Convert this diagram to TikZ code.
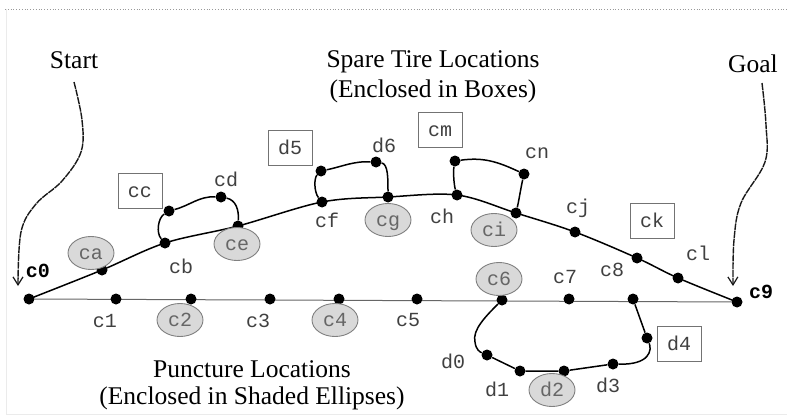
\documentclass[tikz,border=0pt]{standalone}
\usepackage{fontspec}
\setmainfont{Liberation Serif}
\setmonofont{Liberation Mono}
\usetikzlibrary{shapes.geometric,arrows.meta,backgrounds}
\begin{document}
\begin{tikzpicture}[x=1pt,y=-1pt,
  dot/.style={circle,fill=black,inner sep=0pt,minimum size=11pt},
  lbl/.style={font=\ttfamily\fontsize{20}{20}\selectfont,text=black!75,
    inner sep=0pt,text height=12pt,text depth=0pt},
  endlbl/.style={font=\ttfamily\bfseries\fontsize{20}{20}\selectfont,text=black,
    inner sep=0pt,text height=12pt,text depth=0pt},
  spare/.style={lbl,draw=black!55,fill=white,line width=0.9pt,
    minimum width=44pt,minimum height=35pt},
  punct/.style={lbl,ellipse,draw=black!50,fill=black!15,line width=0.9pt,
    minimum width=46pt,minimum height=33pt,text=black!60},
  title/.style={font=\fontsize{25.5}{30}\selectfont,inner sep=0pt,anchor=base},
  road/.style={line width=1.5pt,black},
  base/.style={line width=1pt,draw=black!60},
  pointer/.style={line width=1.4pt,black!90,dash pattern=on 7pt off 0.8pt,
    -{Straight Barb[length=8pt,width=10pt,line width=1.2pt]}}
]
\useasboundingbox (0,0) rectangle (787,420);
\draw[black!40,line width=0.8pt,dotted] (5,9) -- (787,9);
\draw[black!8,line width=0.8pt] (6,9) -- (6,414) -- (787,414);

% headings
\node[title] (start) at (74,68) {Start};
\node[title] (goal) at (753,73) {Goal};
\node[title] (spare1) at (433,67) {Spare Tire Locations};
\node[title] (spare2) at (433,97) {(Enclosed in Boxes)};
\node[title] (punc1) at (252,377) {Puncture Locations};
\node[title] (punc2) at (252,404) {(Enclosed in Shaded Ellipses)};

% locations on the straight road
\node[dot] (c0) at (29,299) {};
\node[dot] (c1) at (116,299) {};
\node[dot] (c2) at (191,299) {};
\node[dot] (c3) at (270,299) {};
\node[dot] (c4) at (339,299) {};
\node[dot] (c5) at (417,299) {};
\node[dot] (c6) at (502,300) {};
\node[dot] (c7) at (569,299) {};
\node[dot] (c8) at (633,299) {};
\node[dot] (c9) at (737,302) {};

% locations on the curved road
\node[dot] (ca) at (102,270) {};
\node[dot] (cb) at (165,243) {};
\node[dot] (ce) at (238,226) {};
\node[dot] (cf) at (322,202) {};
\node[dot] (cg) at (388,197) {};
\node[dot] (ch) at (457,195) {};
\node[dot] (ci) at (516,213) {};
\node[dot] (cj) at (575,232) {};
\node[dot] (ck) at (637,258) {};
\node[dot] (cl) at (678,278) {};

% detour locations
\node[dot] (cc) at (169,211) {};
\node[dot] (cd) at (221,197) {};
\node[dot] (d5) at (321,171) {};
\node[dot] (d6) at (376,162) {};
\node[dot] (cm) at (455,161) {};
\node[dot] (cn) at (524,174) {};
\node[dot] (d0) at (487,355) {};
\node[dot] (d1) at (520,371) {};
\node[dot] (d2) at (564,371) {};
\node[dot] (d3) at (613,364) {};
\node[dot] (d4) at (647,338) {};

\begin{scope}[on background layer]
  \draw[base] (c0) -- (c9);
  \draw[road] plot[smooth,tension=0.55] coordinates
    {(c0) (ca) (cb) (ce) (cf) (cg) (ch) (ci) (cj) (ck) (cl) (c9)};
  % detour loops
  \draw[road] (cb) .. controls (156,233) and (158,218) .. (cc)
    to[out=15,in=178] (cd) .. controls (236,200) and (239,210) .. (ce);
  \draw[road] (cf) .. controls (314,192) and (314,178) .. (d5)
    to[out=12,in=178] (d6) .. controls (388,164) and (388,178) .. (cg);
  \draw[road] (ch) .. controls (454,185) and (453,172) .. (cm)
    to[out=8,in=155] (cn) .. controls (521,187) and (519,200) .. (ci);
  \draw[road] (c6) .. controls (486,316) and (472,330) .. (475,342)
    .. controls (476,350) and (480,352) .. (d0) -- (d1) -- (d2) -- (d3)
    .. controls (650,365) and (652,350) .. (d4) -- (c8);
\end{scope}

% pointers to the two end points
\coordinate (startFrom) at (74,82);
\coordinate (startTip) at (18,286);
\coordinate (goalFrom) at (762,83);
\coordinate (goalTip) at (733,286);
\draw[pointer] plot[smooth,tension=0.6] coordinates
  {(startFrom) (82,120) (81,152) (62,181) (36,204) (21,232) (startTip)};
\draw[pointer] plot[smooth,tension=0.6] coordinates
  {(goalFrom) (766,125) (765,162) (741,203) (734,240) (goalTip)};

% plain labels
\node[endlbl] (lc0) at (38,271) {c0};
\node[endlbl] (lc9) at (761,292) {c9};
\node[lbl] (lc1) at (105,321) {c1};
\node[lbl] (lc3) at (258,321) {c3};
\node[lbl] (lc5) at (408,320) {c5};
\node[lbl] (lc7) at (565,277) {c7};
\node[lbl] (lc8) at (612,270) {c8};
\node[lbl] (lcl) at (698,254) {cl};
\node[lbl] (lcj) at (578,207) {cj};
\node[lbl] (lch) at (442,217) {ch};
\node[lbl] (lcf) at (327,221) {cf};
\node[lbl] (lcb) at (181,267) {cb};
\node[lbl] (lcd) at (226,180) {cd};
\node[lbl] (ld6) at (384,146) {d6};
\node[lbl] (lcn) at (537,152) {cn};
\node[lbl] (ld0) at (453,362) {d0};
\node[lbl] (ld1) at (497,390) {d1};
\node[lbl] (ld3) at (608,386) {d3};

% spare tire locations
\node[spare] (bcc) at (140,191) {cc};
\node[spare] (bd5) at (290,148) {d5};
\node[spare] (bcm) at (440,130) {cm};
\node[spare] (bck) at (652,221) {ck};
\node[spare] (bd4) at (679,344) {d4};

% puncture locations
\node[punct] (eca) at (91,253) {ca};
\node[punct] (ece) at (237,244) {ce};
\node[punct] (ecg) at (388,220) {cg};
\node[punct] (eci) at (494,230) {ci};
\node[punct] (ec2) at (180,320) {c2};
\node[punct] (ec4) at (335,320) {c4};
\node[punct] (ec6) at (499,279) {c6};
\node[punct] (ed2) at (552,390) {d2};
\end{tikzpicture}
\end{document}
